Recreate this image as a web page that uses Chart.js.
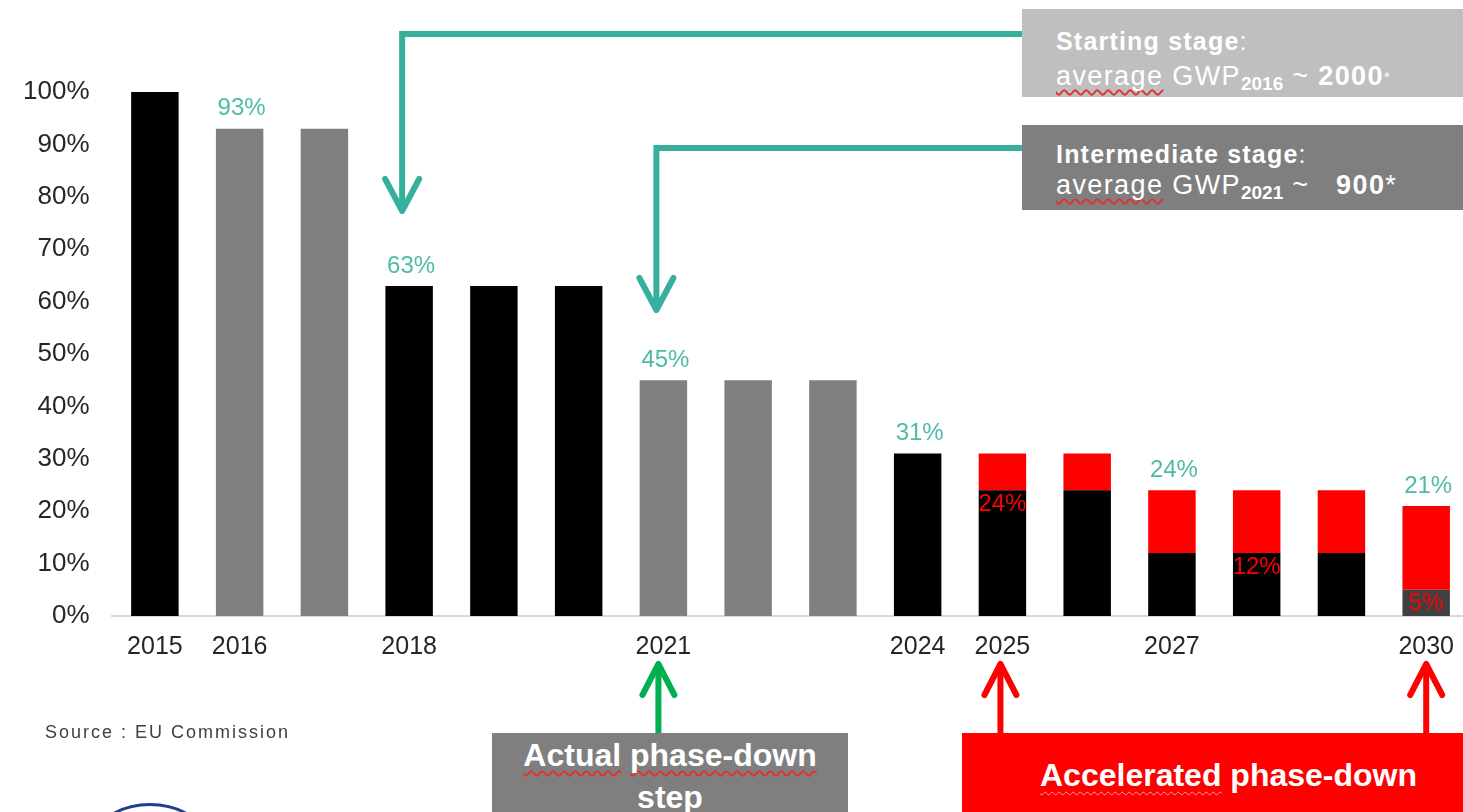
<!DOCTYPE html>
<html>
<head>
<meta charset="utf-8">
<script src="https://cdn.jsdelivr.net/npm/chart.js@4.4.1/dist/chart.umd.min.js"></script>
<style>
  html, body { margin: 0; padding: 0; background: #fff; overflow: hidden; }
  body { width: 1463px; height: 812px; position: relative; font-family: "Liberation Sans", Arial, sans-serif; }
  #wrap { position: absolute; left: 0; top: 0; width: 1470px; height: 812px; }
  .box { position: absolute; color: #fff; box-sizing: border-box; white-space: nowrap; }
  .stage { font-size: 25px; letter-spacing: 1.2px; padding-left: 34px; }
  .stage .l2 { font-size: 27px; letter-spacing: 1.4px; }
  #startBox { left: 1022px; top: 9px; width: 470px; height: 88px; background: #bfbfbf; line-height: 35px; padding-top: 15px; }
  #midBox { left: 1022px; top: 125px; width: 470px; height: 85px; background: #7f7f7f; line-height: 31px; padding-top: 14px; }
  .stage sub { font-size: 19px; font-weight: bold; line-height: 0; vertical-align: -5px; letter-spacing: 0; }
  .stage small { font-size: 15px; vertical-align: 3px; }
  .sq { text-decoration: underline wavy #e03030; text-decoration-thickness: 1.5px; text-underline-offset: 4px; text-decoration-skip-ink: none; }
  .sqw { text-decoration: underline wavy rgba(255,255,255,0.6); text-decoration-thickness: 1px; text-underline-offset: 5px; text-decoration-skip-ink: none; }
  .step { font-size: 32px; font-weight: bold; line-height: 42px; }
  #actualBox { left: 492px; top: 733px; width: 356px; height: 90px; background: #7f7f7f; text-align: center; padding-top: 1px; }
  #accelBox { left: 962px; top: 733px; width: 520px; height: 90px; background: #ff0000; padding-left: 78px; padding-top: 21px; }
  #source { position: absolute; left: 45px; top: 722px; font-size: 18px; letter-spacing: 2px; color: #404040; }
  #logo { position: absolute; left: 100px; top: 803px; width: 94px; height: 50px; border: 3px solid #223d8c; border-radius: 50%; }
</style>
</head>
<body>
<div id="wrap"><canvas id="chart"></canvas></div>

<div class="box stage" id="startBox">
  <div><b>Starting stage</b>:</div>
  <div class="l2"><span class="sq">average</span> GWP<sub>2016</sub> ~ <b>2000</b><small>*</small></div>
</div>
<div class="box stage" id="midBox">
  <div><b>Intermediate stage</b>:</div>
  <div class="l2"><span class="sq">average</span> GWP<sub>2021</sub> ~ &nbsp;&nbsp;<b>900</b>*</div>
</div>
<div class="box step" id="actualBox"><span class="sq">Actual</span> <span class="sq">phase-down</span><br><span class="sq">step</span></div>
<div class="box step" id="accelBox"><span class="sqw">Accelerated</span> phase-down</div>
<div id="source">Source : EU Commission</div>
<div id="logo"></div>

<script>
// quota (% of 2015 baseline) per year
const years = [2015, 2016, 2017, 2018, 2019, 2020, 2021, 2022, 2023, 2024, 2025, 2026, 2027, 2028, 2029, 2030];
const quota = [100, 93, 93, 63, 63, 63, 45, 45, 45, 31, 31, 31, 24, 24, 24, 21];
// accelerated phase-down levels (only from 2025)
const accelerated = [null, null, null, null, null, null, null, null, null, null, 24, 24, 12, 12, 12, 5];
// which years get a label
const tickYears = [2015, 2016, 2018, 2021, 2024, 2025, 2027, 2030];
const quotaLabelYears = [2016, 2018, 2021, 2024, 2027, 2030];
const accelLabelYears = [2025, 2028, 2030];

const baseColors = ['#000', '#7f7f7f', '#7f7f7f', '#000', '#000', '#000', '#7f7f7f', '#7f7f7f', '#7f7f7f',
  '#000', '#000', '#000', '#000', '#000', '#000', '#404040'];

const baseSeg = quota.map((q, i) => accelerated[i] ?? q);
const cutSeg = quota.map((q, i) => q - baseSeg[i]);

const TEAL = '#36b09c';
const FONT = '"Liberation Sans", Arial, sans-serif';

// percentage labels over / inside the bars
const labelPlugin = {
  id: 'barLabels',
  afterDatasetsDraw(chart) {
    const {ctx, scales: {x, y}} = chart;
    ctx.save();
    ctx.font = '24px ' + FONT;
    ctx.textAlign = 'center';
    ctx.textBaseline = 'middle';
    ctx.fillStyle = '#4fbba6';
    quotaLabelYears.forEach(yr => {
      const i = years.indexOf(yr);
      ctx.fillText(quota[i] + '%', x.getPixelForValue(i) + 2, y.getPixelForValue(quota[i]) - 20);
    });
    ctx.fillStyle = '#ff0000';
    accelLabelYears.forEach(yr => {
      const i = years.indexOf(yr);
      const top = y.getPixelForValue(accelerated[i]);
      const mid = (top + y.getPixelForValue(0)) / 2;
      ctx.fillText(accelerated[i] + '%', x.getPixelForValue(i), Math.min(top + 14, mid));
    });
    ctx.restore();
  }
};

function elbow(ctx, x, y0, tip, color) {
  ctx.strokeStyle = color;
  ctx.lineWidth = 6;
  ctx.lineCap = 'butt';
  ctx.beginPath();
  ctx.moveTo(x - 3, y0);
  ctx.lineTo(1040, y0);
  ctx.moveTo(x, y0);
  ctx.lineTo(x, tip - 3);
  ctx.stroke();
  ctx.lineCap = 'round';
  ctx.lineJoin = 'round';
  ctx.beginPath();
  ctx.moveTo(x - 17, tip - 32);
  ctx.lineTo(x, tip);
  ctx.lineTo(x + 17, tip - 32);
  ctx.stroke();
}

function upArrow(ctx, x, tip, end, color) {
  ctx.strokeStyle = color;
  ctx.lineWidth = 6;
  ctx.lineCap = 'butt';
  ctx.beginPath();
  ctx.moveTo(x, tip + 3);
  ctx.lineTo(x, end);
  ctx.stroke();
  ctx.lineCap = 'round';
  ctx.lineJoin = 'round';
  ctx.beginPath();
  ctx.moveTo(x - 16, tip + 31);
  ctx.lineTo(x, tip);
  ctx.lineTo(x + 16, tip + 31);
  ctx.stroke();
}

// stage arrows, anchored on the year they point at
const arrowPlugin = {
  id: 'stageArrows',
  afterDraw(chart) {
    const {ctx, scales: {x}} = chart;
    const cx = yr => x.getPixelForValue(years.indexOf(yr));
    ctx.save();
    elbow(ctx, cx(2018) - 7, 34, 211, TEAL);
    elbow(ctx, cx(2021) - 7, 148, 310, TEAL);
    upArrow(ctx, cx(2021) - 5, 664, 740, '#00b050');
    upArrow(ctx, cx(2025) - 2, 664, 740, '#ff0000');
    upArrow(ctx, cx(2030), 664, 740, '#ff0000');
    ctx.restore();
  }
};

new Chart(document.getElementById('chart'), {
  type: 'bar',
  data: {
    labels: years,
    datasets: [
      { label: 'Quota', data: baseSeg, backgroundColor: baseColors, borderWidth: 0 },
      { label: 'Accelerated cut', data: cutSeg, backgroundColor: '#ff0000', borderWidth: 0 }
    ]
  },
  options: {
    responsive: true,
    maintainAspectRatio: false,
    animation: false,
    datasets: { bar: { categoryPercentage: 1, barPercentage: 0.56 } },
    layout: { padding: { left: 0, top: 92, right: 0, bottom: 134 } },
    plugins: { legend: { display: false }, tooltip: { enabled: false } },
    scales: {
      x: {
        stacked: true,
        grid: { display: false, drawTicks: false },
        border: { color: '#d9d9d9', width: 2 },
        ticks: {
          autoSkip: false, maxRotation: 0, padding: 16,
          color: '#262626', font: { size: 25, family: FONT },
          callback: (v, i) => tickYears.includes(years[i]) ? String(years[i]) : ''
        }
      },
      y: {
        stacked: true,
        min: 0, max: 100,
        grid: { display: false, drawTicks: false },
        border: { display: false },
        ticks: {
          stepSize: 10, padding: 23,
          color: '#262626', font: { size: 26, family: FONT },
          callback: v => v + '%'
        }
      }
    }
  },
  plugins: [labelPlugin, arrowPlugin]
});
</script>
</body>
</html>
